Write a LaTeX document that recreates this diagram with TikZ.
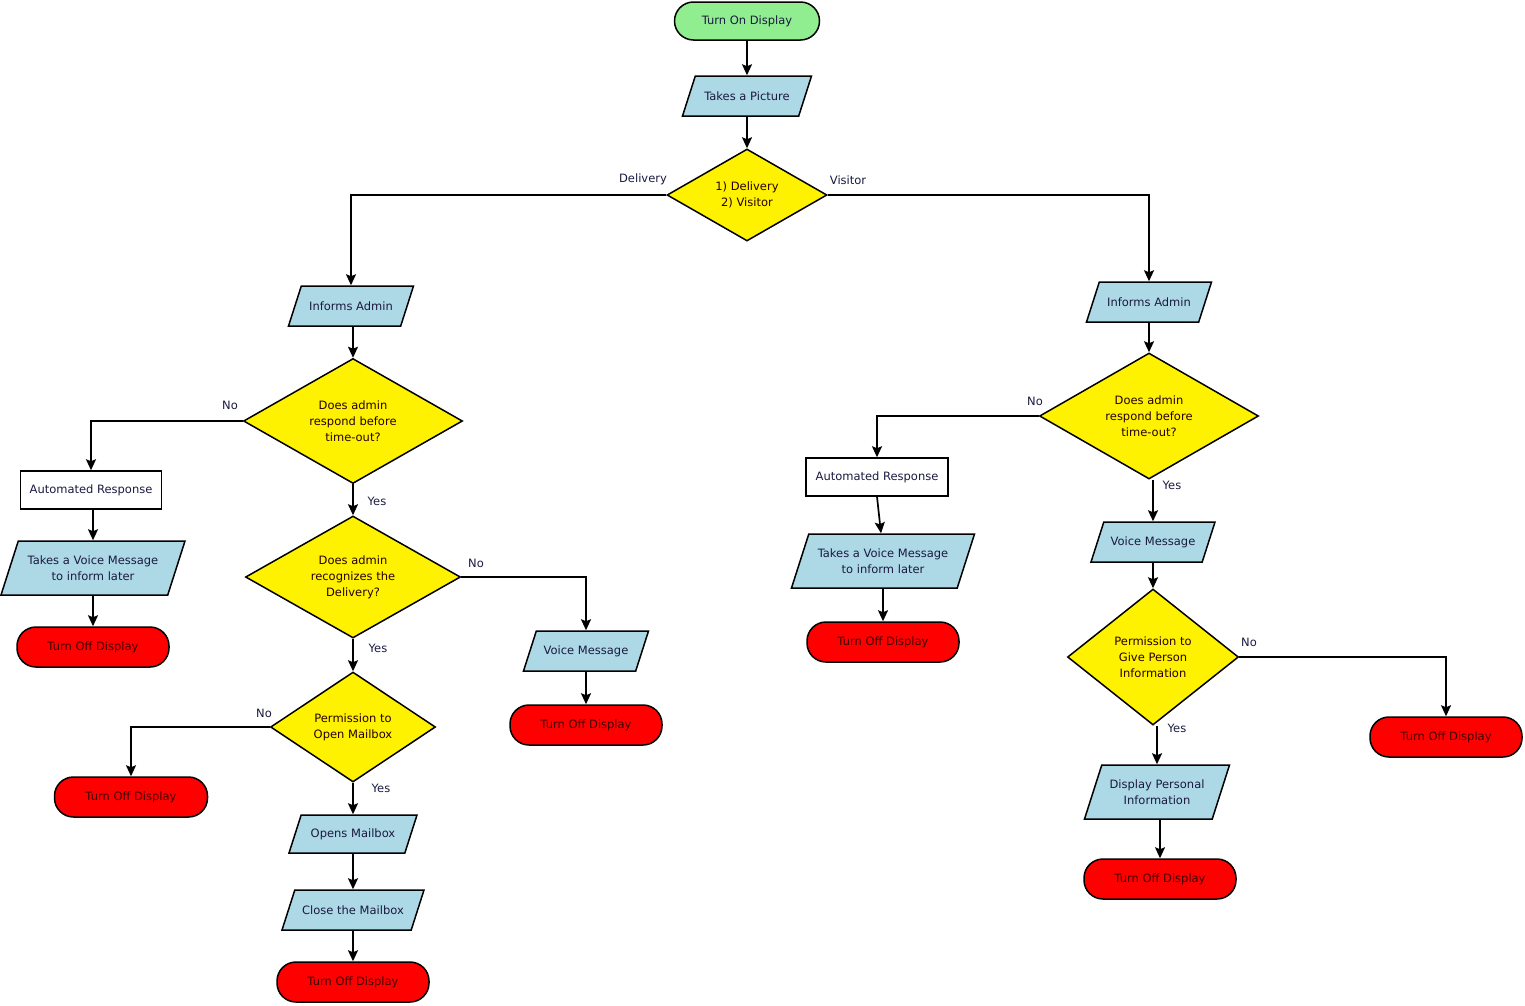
\documentclass[tikz,border=0pt]{standalone}
\usepackage{fontspec}
\setmainfont{DejaVu Sans}
\usetikzlibrary{shapes.geometric,arrows.meta}
\definecolor{txt}{HTML}{1A1A40}
\definecolor{startgreen}{HTML}{90EE90}
\definecolor{procblue}{HTML}{ADD8E6}
\tikzset{
  base/.style={draw=black, line width=1.5pt, text=txt, align=center, inner sep=0pt,
    font=\fontsize{11.5}{16}\selectfont},
  startbox/.style={base, fill=startgreen, rounded corners=19pt},
  endbox/.style={base, fill=red, rounded corners=19pt, text=black!75!red},
  iopoly/.style={draw=black, line width=1.5pt, fill=procblue, line join=miter},
  iotext/.style={base, draw=none, rectangle},
  procbox/.style={base, fill=white, rectangle},
  decbox/.style={base, fill=yellow, diamond, aspect=2, text=black!85!red},
  conn/.style={line width=1.7pt, -{Stealth[length=11pt,width=10pt,inset=2pt]}},
  lbl/.style={text=txt, font=\fontsize{11.5}{12}\selectfont, inner sep=0pt},
}
% #1 name, #2 x, #3 y, #4 width, #5 height, #6 text
\newcommand{\ionode}[6]{%
  \pgfmathsetmacro{\ioS}{0.32*#5}%
  \filldraw[iopoly] ({#2-#4/2},{#3+#5/2}) -- ({#2+#4/2-\ioS},{#3+#5/2})
     -- ({#2+#4/2},{#3-#5/2}) -- ({#2-#4/2+\ioS},{#3-#5/2}) -- cycle;
  \node[iotext, minimum width=#4pt, minimum height=#5pt] (#1) at (#2,#3) {#6};%
}
\begin{document}
\begin{tikzpicture}[x=1pt,y=-1pt]
\useasboundingbox (0,0) rectangle (1525,1005);

% top
\node[startbox, minimum width=145pt, minimum height=38pt] (start) at (747,21) {Turn On Display};
\ionode{pic}{747}{96}{129}{40}{Takes a Picture}
\node[decbox, minimum width=160pt, minimum height=92pt] (d1) at (747,195) {1) Delivery\\2) Visitor};

% left branch
\ionode{ia1}{351}{306}{125}{40}{Informs Admin}
\node[decbox, minimum width=219pt, minimum height=125pt] (q1) at (353,421) {Does admin\\respond before\\time-out?};
\node[procbox, minimum width=141pt, minimum height=38pt] (ar1) at (91,490) {Automated Response};
\ionode{vm1}{93}{568}{184}{54}{Takes a Voice Message\\to inform later}
\node[endbox, minimum width=152pt, minimum height=40pt] (off1) at (93,647) {Turn Off Display};
\node[decbox, minimum width=215pt, minimum height=122pt] (q2) at (353,577) {Does admin\\recognizes the\\Delivery?};
\ionode{vmsg1}{586}{651}{125}{40}{Voice Message}
\node[endbox, minimum width=152pt, minimum height=40pt] (off2) at (586,725) {Turn Off Display};
\node[decbox, minimum width=165pt, minimum height=110pt] (q3) at (353,727) {Permission to\\Open Mailbox};
\node[endbox, minimum width=153pt, minimum height=40pt] (off3) at (131,797) {Turn Off Display};
\ionode{om}{353}{834}{128}{38}{Opens Mailbox}
\ionode{cm}{353}{910}{142}{40}{Close the Mailbox}
\node[endbox, minimum width=152pt, minimum height=40pt] (off4) at (353,982) {Turn Off Display};

% right branch
\ionode{ia2}{1149}{302}{125}{40}{Informs Admin}
\node[decbox, minimum width=219pt, minimum height=126pt] (q4) at (1149,416) {Does admin\\respond before\\time-out?};
\node[procbox, minimum width=142pt, minimum height=38pt] (ar2) at (877,477) {Automated Response};
\ionode{vm2}{883}{561}{183}{54}{Takes a Voice Message\\to inform later}
\node[endbox, minimum width=152pt, minimum height=40pt] (off5) at (883,642) {Turn Off Display};
\ionode{vmsg2}{1153}{542}{124}{40}{Voice Message}
\node[decbox, minimum width=171pt, minimum height=136pt] (q5) at (1153,657) {Permission to\\Give Person\\Information};
\node[endbox, minimum width=152pt, minimum height=40pt] (off6) at (1446,737) {Turn Off Display};
\ionode{dp}{1157}{792}{145}{54}{Display Personal\\Information}
\node[endbox, minimum width=152pt, minimum height=40pt] (off7) at (1160,879) {Turn Off Display};

% connectors
\draw[conn] (start.south) -- (pic.north);
\draw[conn] (pic.south) -- (d1.north);
\draw[conn] (d1.west) -| (ia1.north);
\draw[conn] (d1.east) -| (ia2.north);
\draw[conn] (q1.north |- ia1.south) -- (q1.north);
\draw[conn] (q1.west) -| (ar1.north);
\draw[conn] (vm1.north |- ar1.south) -- (vm1.north);
\draw[conn] (vm1.south) -- (off1.north);
\draw[conn] (q1.south) -- (q2.north);
\draw[conn] (q2.east) -| (vmsg1.north);
\draw[conn] (vmsg1.south) -- (off2.north);
\draw[conn] (q2.south) -- (q3.north);
\draw[conn] (q3.west) -| (off3.north);
\draw[conn] (q3.south) -- (om.north);
\draw[conn] (om.south) -- (cm.north);
\draw[conn] (cm.south) -- (off4.north);

\draw[conn] (ia2.south) -- (q4.north);
\draw[conn] (q4.west) -| (ar2.north);
\draw[conn] (ar2.south) -- ([xshift=-2pt]vm2.north);
\draw[conn] (vm2.south) -- (off5.north);
\draw[conn] (vmsg2.north |- q4.south) -- (vmsg2.north);
\draw[conn] (vmsg2.south) -- (q5.north);
\draw[conn] (q5.east) -| (off6.north);
\draw[conn] (dp.north |- q5.south) -- (dp.north);
\draw[conn] (off7.north |- dp.south) -- (off7.north);

% labels
\node[lbl] (l1) at (643,179) {Delivery};
\node[lbl] (l2) at (848,180) {Visitor};
\node[lbl] (l3) at (230,405) {No};
\node[lbl] (l4) at (377,501) {Yes};
\node[lbl] (l5) at (476,563) {No};
\node[lbl] (l6) at (378,648) {Yes};
\node[lbl] (l7) at (264,713) {No};
\node[lbl] (l8) at (381,788) {Yes};
\node[lbl] (l9) at (1035,401) {No};
\node[lbl] (l10) at (1172,485) {Yes};
\node[lbl] (l11) at (1249,642) {No};
\node[lbl] (l12) at (1177,728) {Yes};
\end{tikzpicture}
\end{document}
